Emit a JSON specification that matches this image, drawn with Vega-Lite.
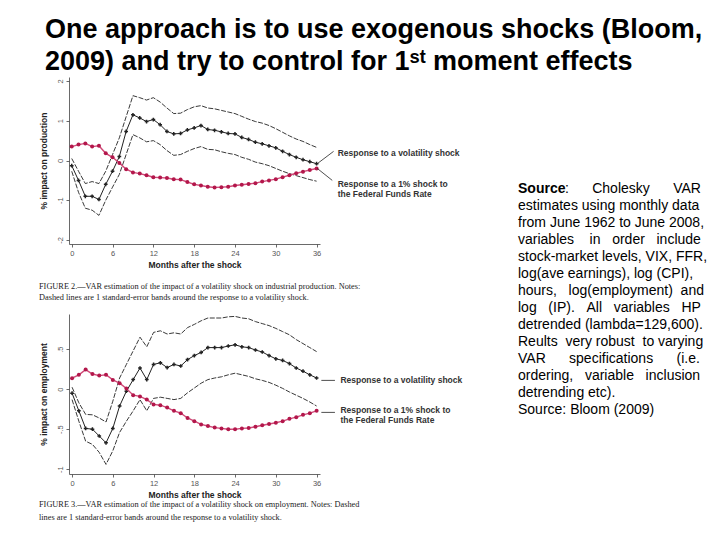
{
  "$schema": "https://vega.github.io/schema/vega-lite/v6.json",
  "background": "white",
  "padding": {"left": 39, "top": 16, "right": 5, "bottom": 5},
  "title": {
    "text": ["One approach is to use exogenous shocks (Bloom,", "2009) and try to control for 1ˢᵗ moment effects"],
    "anchor": "start", "frame": "group", "font": "Liberation Sans", "fontSize": 27, "fontWeight": "bold",
    "lineHeight": 31.5, "color": "black", "offset": 1.5, "dx": -24
  },
  "datasets": {
    "prod": [
      {"m": 0, "up": 0.05, "mid": -0.13, "lo": -0.27, "ffr": 0.35},
      {"m": 1, "up": -0.27, "mid": -0.5, "lo": -0.8, "ffr": 0.4},
      {"m": 2, "up": -0.58, "mid": -0.9, "lo": -1.2, "ffr": 0.43},
      {"m": 3, "up": -0.53, "mid": -0.9, "lo": -1.25, "ffr": 0.35},
      {"m": 4, "up": -0.58, "mid": -0.98, "lo": -1.38, "ffr": 0.37},
      {"m": 5, "up": -0.27, "mid": -0.6, "lo": -1.0, "ffr": 0.18},
      {"m": 6, "up": 0.15, "mid": -0.27, "lo": -0.67, "ffr": 0.08},
      {"m": 7, "up": 0.57, "mid": 0.1, "lo": -0.35, "ffr": -0.06},
      {"m": 8, "up": 1.1, "mid": 0.73, "lo": 0.15, "ffr": -0.22},
      {"m": 9, "up": 1.63, "mid": 1.15, "lo": 0.65, "ffr": -0.3},
      {"m": 10, "up": 1.58, "mid": 1.07, "lo": 0.57, "ffr": -0.33},
      {"m": 11, "up": 1.52, "mid": 0.98, "lo": 0.47, "ffr": -0.37},
      {"m": 12, "up": 1.58, "mid": 1.03, "lo": 0.5, "ffr": -0.42},
      {"m": 13, "up": 1.47, "mid": 0.9, "lo": 0.4, "ffr": -0.43},
      {"m": 14, "up": 1.32, "mid": 0.73, "lo": 0.25, "ffr": -0.44},
      {"m": 15, "up": 1.18, "mid": 0.67, "lo": 0.13, "ffr": -0.47},
      {"m": 16, "up": 1.19, "mid": 0.68, "lo": 0.15, "ffr": -0.48},
      {"m": 17, "up": 1.28, "mid": 0.77, "lo": 0.23, "ffr": -0.54},
      {"m": 18, "up": 1.35, "mid": 0.82, "lo": 0.3, "ffr": -0.6},
      {"m": 19, "up": 1.38, "mid": 0.88, "lo": 0.35, "ffr": -0.63},
      {"m": 20, "up": 1.32, "mid": 0.78, "lo": 0.28, "ffr": -0.66},
      {"m": 21, "up": 1.3, "mid": 0.76, "lo": 0.27, "ffr": -0.68},
      {"m": 22, "up": 1.26, "mid": 0.72, "lo": 0.22, "ffr": -0.67},
      {"m": 23, "up": 1.22, "mid": 0.68, "lo": 0.18, "ffr": -0.66},
      {"m": 24, "up": 1.18, "mid": 0.67, "lo": 0.15, "ffr": -0.63},
      {"m": 25, "up": 1.11, "mid": 0.58, "lo": 0.08, "ffr": -0.61},
      {"m": 26, "up": 1.04, "mid": 0.53, "lo": 0.03, "ffr": -0.59},
      {"m": 27, "up": 0.98, "mid": 0.46, "lo": -0.04, "ffr": -0.57},
      {"m": 28, "up": 0.94, "mid": 0.42, "lo": -0.08, "ffr": -0.53},
      {"m": 29, "up": 0.88, "mid": 0.37, "lo": -0.13, "ffr": -0.5},
      {"m": 30, "up": 0.8, "mid": 0.32, "lo": -0.2, "ffr": -0.47},
      {"m": 31, "up": 0.71, "mid": 0.23, "lo": -0.27, "ffr": -0.42},
      {"m": 32, "up": 0.62, "mid": 0.15, "lo": -0.33, "ffr": -0.37},
      {"m": 33, "up": 0.54, "mid": 0.08, "lo": -0.38, "ffr": -0.32},
      {"m": 34, "up": 0.48, "mid": 0.02, "lo": -0.43, "ffr": -0.28},
      {"m": 35, "up": 0.4, "mid": -0.03, "lo": -0.48, "ffr": -0.24},
      {"m": 36, "up": 0.33, "mid": -0.08, "lo": -0.52, "ffr": -0.2}
    ],
    "emp": [
      {"m": 0, "up": 0.025, "mid": -0.05, "lo": -0.13, "ffr": 0.137},
      {"m": 1, "up": -0.17, "mid": -0.27, "lo": -0.4, "ffr": 0.18},
      {"m": 2, "up": -0.315, "mid": -0.49, "lo": -0.65, "ffr": 0.245},
      {"m": 3, "up": -0.32, "mid": -0.5, "lo": -0.69, "ffr": 0.19},
      {"m": 4, "up": -0.36, "mid": -0.585, "lo": -0.79, "ffr": 0.17},
      {"m": 5, "up": -0.41, "mid": -0.67, "lo": -0.94, "ffr": 0.18},
      {"m": 6, "up": -0.15, "mid": -0.49, "lo": -0.77, "ffr": 0.116},
      {"m": 7, "up": 0.14, "mid": -0.21, "lo": -0.54, "ffr": 0.075},
      {"m": 8, "up": 0.31, "mid": -0.025, "lo": -0.4, "ffr": 0.008},
      {"m": 9, "up": 0.48, "mid": 0.12, "lo": -0.27, "ffr": -0.075},
      {"m": 10, "up": 0.65, "mid": 0.265, "lo": -0.13, "ffr": -0.09},
      {"m": 11, "up": 0.53, "mid": 0.12, "lo": -0.27, "ffr": -0.13},
      {"m": 12, "up": 0.71, "mid": 0.31, "lo": -0.115, "ffr": -0.19},
      {"m": 13, "up": 0.73, "mid": 0.33, "lo": -0.1, "ffr": -0.2},
      {"m": 14, "up": 0.69, "mid": 0.27, "lo": -0.115, "ffr": -0.23},
      {"m": 15, "up": 0.705, "mid": 0.31, "lo": -0.13, "ffr": -0.27},
      {"m": 16, "up": 0.69, "mid": 0.29, "lo": -0.115, "ffr": -0.3},
      {"m": 17, "up": 0.77, "mid": 0.37, "lo": -0.045, "ffr": -0.36},
      {"m": 18, "up": 0.81, "mid": 0.42, "lo": 0.015, "ffr": -0.4},
      {"m": 19, "up": 0.855, "mid": 0.46, "lo": 0.075, "ffr": -0.44},
      {"m": 20, "up": 0.89, "mid": 0.52, "lo": 0.12, "ffr": -0.46},
      {"m": 21, "up": 0.89, "mid": 0.52, "lo": 0.14, "ffr": -0.48},
      {"m": 22, "up": 0.89, "mid": 0.52, "lo": 0.155, "ffr": -0.49},
      {"m": 23, "up": 0.905, "mid": 0.54, "lo": 0.18, "ffr": -0.5},
      {"m": 24, "up": 0.91, "mid": 0.555, "lo": 0.2, "ffr": -0.5},
      {"m": 25, "up": 0.89, "mid": 0.53, "lo": 0.18, "ffr": -0.49},
      {"m": 26, "up": 0.88, "mid": 0.52, "lo": 0.16, "ffr": -0.485},
      {"m": 27, "up": 0.845, "mid": 0.49, "lo": 0.13, "ffr": -0.47},
      {"m": 28, "up": 0.82, "mid": 0.465, "lo": 0.11, "ffr": -0.45},
      {"m": 29, "up": 0.795, "mid": 0.42, "lo": 0.085, "ffr": -0.435},
      {"m": 30, "up": 0.76, "mid": 0.38, "lo": 0.05, "ffr": -0.42},
      {"m": 31, "up": 0.72, "mid": 0.36, "lo": 0.01, "ffr": -0.4},
      {"m": 32, "up": 0.68, "mid": 0.32, "lo": -0.035, "ffr": -0.37},
      {"m": 33, "up": 0.62, "mid": 0.265, "lo": -0.075, "ffr": -0.35},
      {"m": 34, "up": 0.57, "mid": 0.225, "lo": -0.115, "ffr": -0.32},
      {"m": 35, "up": 0.52, "mid": 0.18, "lo": -0.16, "ffr": -0.3},
      {"m": 36, "up": 0.47, "mid": 0.14, "lo": -0.21, "ffr": -0.27}
    ],
    "prodLead": [
      {"m": 36.1, "v": -0.08, "m2": 38.5, "v2": 0.23},
      {"m": 36.1, "v": -0.2, "m2": 38.3, "v2": -0.5}
    ],
    "prodLab": [
      {"m": 39.1, "v": 0.2, "t": "Response to a volatility shock"},
      {"m": 39.1, "v": -0.6, "t": "Response to a 1% shock to|the Federal Funds Rate"}
    ],
    "empLead": [
      {"m": 36.7, "v": 0.11, "m2": 38.7, "v2": 0.11},
      {"m": 36.7, "v": -0.29, "m2": 38.7, "v2": -0.29}
    ],
    "empLab": [
      {"m": 39.5, "v": 0.11, "t": "Response to a volatility shock"},
      {"m": 39.5, "v": -0.26, "t": "Response to a 1% shock to|the Federal Funds Rate"}
    ],
    "notes": [
      {"i": 0, "t": "Source"},
      {"i": 0, "t": ":\u00a0\u00a0\u00a0\u00a0\u00a0\u00a0Cholesky\u00a0\u00a0\u00a0\u00a0\u00a0\u00a0VAR"},
      {"i": 1, "t": "estimates using monthly data"},
      {"i": 2, "t": "from June 1962 to June 2008,"},
      {"i": 3, "t": "variables\u00a0\u00a0\u00a0\u00a0in\u00a0\u00a0\u00a0order\u00a0\u00a0\u00a0include"},
      {"i": 4, "t": "stock-market levels, VIX, FFR,"},
      {"i": 5, "t": "log(ave earnings), log (CPI),"},
      {"i": 6, "t": "hours,\u00a0\u00a0\u00a0log(employment)\u00a0\u00a0and"},
      {"i": 7, "t": "log\u00a0\u00a0\u00a0(IP).\u00a0\u00a0\u00a0All\u00a0\u00a0\u00a0variables\u00a0\u00a0\u00a0HP"},
      {"i": 8, "t": "detrended (lambda=129,600)."},
      {"i": 9, "t": "Reults\u00a0\u00a0very robust\u00a0\u00a0to varying"},
      {"i": 10, "t": "VAR\u00a0\u00a0\u00a0\u00a0\u00a0\u00a0specifications\u00a0\u00a0\u00a0\u00a0\u00a0\u00a0(i.e."},
      {"i": 11, "t": "ordering,\u00a0\u00a0\u00a0variable\u00a0\u00a0\u00a0inclusion"},
      {"i": 12, "t": "detrending etc)."},
      {"i": 13, "t": "Source: Bloom (2009)"}
    ]
  },
  "concat": [
    {
      "width": 251, "height": 167,
      "title": {
        "text": ["\u00a0\u00a0\u00a0FIGURE 2.—VAR estimation of the impact of a volatility shock on industrial production. Notes:", "Dashed lines are 1 standard-error bands around the response to a volatility shock."],
        "orient": "bottom", "anchor": "start", "frame": "bounds", "font": "Liberation Serif", "fontSize": 8.3,
        "fontWeight": "normal", "lineHeight": 11, "offset": 13, "color": "#222"
      },
      "encoding": {
        "x": {"field": "m", "type": "quantitative", "title": "Months after the shock",
              "scale": {"domain": [-0.4, 36.5], "nice": false, "zero": false},
              "axis": {"values": [0, 6, 12, 18, 24, 30, 36]}},
        "y": {"field": "v", "type": "quantitative", "title": "% impact on production",
              "scale": {"domain": [-2.1, 2.1], "nice": false, "zero": false},
              "axis": {"values": [-2, -1, 0, 1, 2], "labelExpr": "replace(datum.label, '\u2212', '-')"}}
      },
      "layer": [
        {"data": {"name": "prod"}, "transform": [{"fold": ["up", "lo"], "as": ["s", "v"]}],
         "mark": {"type": "line", "color": "#222", "strokeWidth": 0.9, "strokeDash": [5, 1.5]},
         "encoding": {"detail": {"field": "s"}}},
        {"data": {"name": "prod"}, "transform": [{"fold": ["mid"], "as": ["s", "v"]}],
         "mark": {"type": "line", "color": "#222", "strokeWidth": 1,
                  "point": {"shape": "cross", "size": 14, "filled": true, "color": "#222"}}},
        {"data": {"name": "prod"}, "transform": [{"fold": ["ffr"], "as": ["s", "v"]}],
         "mark": {"type": "line", "color": "#d04a78", "strokeWidth": 1.4,
                  "point": {"filled": true, "size": 16, "color": "#b3174b"}}},
        {"data": {"name": "prodLead"}, "mark": {"type": "rule", "color": "#222", "strokeWidth": 0.8},
         "encoding": {"x2": {"field": "m2"}, "y2": {"field": "v2"}}},
        {"data": {"name": "prodLab"},
         "mark": {"type": "text", "align": "left", "baseline": "middle", "fontSize": 8.5, "fontWeight": "bold",
                  "color": "#333", "lineBreak": "|", "lineHeight": 10},
         "encoding": {"text": {"field": "t"}}}
      ]
    },
    {
      "width": 185, "height": 167,
      "data": {"name": "notes"},
      "encoding": {
        "x": {"datum": 0, "type": "quantitative", "scale": {"domain": [0, 1]}, "axis": null},
        "y": {"field": "i", "type": "quantitative", "scale": {"domain": [-6.59, 3.23], "reverse": true, "nice": false, "zero": false}, "axis": null},
        "text": {"field": "t"}
      },
      "layer": [
        {"transform": [{"filter": "datum.t == 'Source'"}],
         "mark": {"type": "text", "align": "left", "baseline": "middle", "fontSize": 14, "fontWeight": "bold", "color": "black"}},
        {"transform": [{"filter": "datum.i == 0 && datum.t != 'Source'"}],
         "mark": {"type": "text", "align": "left", "baseline": "middle", "fontSize": 14, "color": "black", "dx": 47}},
        {"transform": [{"filter": "datum.i > 0"}],
         "mark": {"type": "text", "align": "left", "baseline": "middle", "fontSize": 14, "color": "black"}}
      ]
    },
    {
      "width": 251, "height": 160,
      "title": {
        "text": ["\u00a0\u00a0\u00a0FIGURE 3.—VAR estimation of the impact of a volatility shock on employment. Notes: Dashed", "lines are 1 standard-error bands around the response to a volatility shock."],
        "orient": "bottom", "anchor": "start", "frame": "bounds", "font": "Liberation Serif", "fontSize": 8.3,
        "fontWeight": "normal", "lineHeight": 12.5, "offset": 1, "color": "#222"
      },
      "encoding": {
        "x": {"field": "m", "type": "quantitative", "title": "Months after the shock",
              "scale": {"domain": [-0.45, 36.5], "nice": false, "zero": false},
              "axis": {"values": [0, 6, 12, 18, 24, 30, 36]}},
        "y": {"field": "v", "type": "quantitative", "title": "% impact on employment",
              "scale": {"domain": [-1.06, 0.94], "nice": false, "zero": false},
              "axis": {"values": [-1, -0.5, 0, 0.5], "labelExpr": "datum.value == 0.5 ? '.5' : datum.value == -0.5 ? '-.5' : datum.value == -1 ? '-1' : '0'"}}
      },
      "layer": [
        {"data": {"name": "emp"}, "transform": [{"fold": ["up", "lo"], "as": ["s", "v"]}],
         "mark": {"type": "line", "color": "#222", "strokeWidth": 0.9, "strokeDash": [5, 1.5]},
         "encoding": {"detail": {"field": "s"}}},
        {"data": {"name": "emp"}, "transform": [{"fold": ["mid"], "as": ["s", "v"]}],
         "mark": {"type": "line", "color": "#222", "strokeWidth": 1,
                  "point": {"shape": "cross", "size": 14, "filled": true, "color": "#222"}}},
        {"data": {"name": "emp"}, "transform": [{"fold": ["ffr"], "as": ["s", "v"]}],
         "mark": {"type": "line", "color": "#d04a78", "strokeWidth": 1.4,
                  "point": {"filled": true, "size": 16, "color": "#b3174b"}}},
        {"data": {"name": "empLead"}, "mark": {"type": "rule", "color": "#222", "strokeWidth": 0.8},
         "encoding": {"x2": {"field": "m2"}, "y2": {"field": "v2"}}},
        {"data": {"name": "empLab"},
         "mark": {"type": "text", "align": "left", "baseline": "middle", "fontSize": 8.5, "fontWeight": "bold",
                  "color": "#333", "lineBreak": "|", "lineHeight": 10},
         "encoding": {"text": {"field": "t"}}}
      ]
    }
  ],
  "columns": 2,
  "spacing": {"row": 70, "column": 198},
  "bounds": "flush",
  "config": {
    "font": "Liberation Sans",
    "view": {"stroke": null},
    "axis": {"grid": false, "domainColor": "#444", "domainWidth": 0.8, "tickColor": "#444", "tickSize": 3,
             "tickWidth": 0.8, "labelFontSize": 7.5, "labelColor": "#555", "titleFontSize": 8.5,
             "titleFontWeight": "bold", "titleColor": "#222"},
    "axisY": {"labelAngle": -90, "labelAlign": "center", "labelBaseline": "bottom", "labelPadding": 2, "titlePadding": 8},
    "axisX": {"labelPadding": 2, "titlePadding": 4}
  }
}
